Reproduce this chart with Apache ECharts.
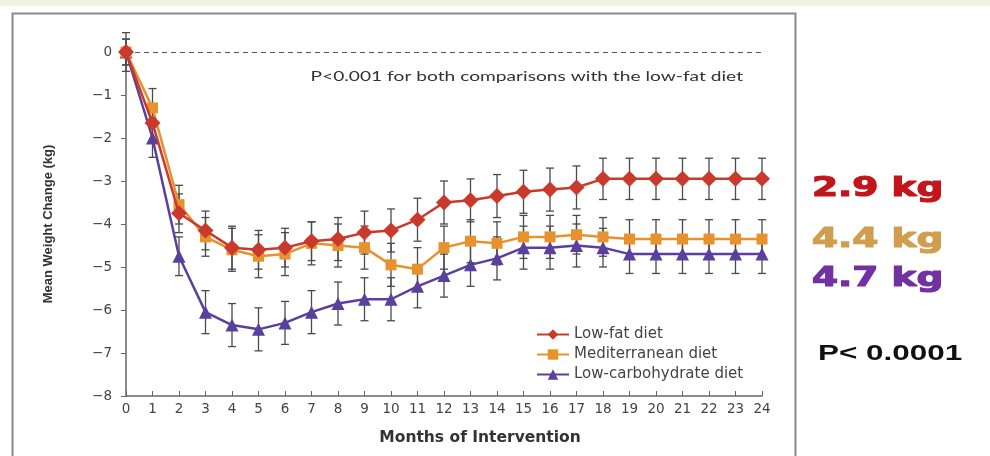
<!DOCTYPE html>
<html><head>
<meta charset="UTF-8">
<title>Mean Weight Change</title>
<style>
  body { margin: 0; background: #fff; }
  #chart { width: 990px; height: 456px; }
</style>
</head>
<body>
<div id="chart"></div>
<script src="https://cdn.jsdelivr.net/npm/echarts@6/dist/echarts.min.js"></script>
<script>
  // months 0..24
  const months = [0,1,2,3,4,5,6,7,8,9,10,11,12,13,14,15,16,17,18,19,20,21,22,23,24];

  // mean weight change (kg)
  const lowFat = [0,-1.65,-3.75,-4.15,-4.55,-4.6,-4.55,-4.4,-4.35,-4.2,-4.15,-3.9,-3.5,-3.45,-3.35,-3.25,-3.2,-3.15,-2.95,-2.95,-2.95,-2.95,-2.95,-2.95,-2.95];
  const mediterranean = [0,-1.3,-3.55,-4.3,-4.6,-4.75,-4.7,-4.45,-4.5,-4.55,-4.95,-5.05,-4.55,-4.4,-4.45,-4.3,-4.3,-4.25,-4.3,-4.35,-4.35,-4.35,-4.35,-4.35,-4.35];
  const lowCarb = [0,-2.0,-4.75,-6.05,-6.35,-6.45,-6.3,-6.05,-5.85,-5.75,-5.75,-5.45,-5.2,-4.95,-4.8,-4.55,-4.55,-4.5,-4.55,-4.7,-4.7,-4.7,-4.7,-4.7,-4.7];

  // half-width of error bars (kg)
  const lowFatErr = [0.45,0.45,0.45,0.45,0.5,0.45,0.45,0.45,0.5,0.5,0.5,0.5,0.5,0.5,0.5,0.5,0.5,0.5,0.48,0.48,0.48,0.48,0.48,0.48,0.48];
  const medErr = [0.3,0.45,0.45,0.45,0.5,0.5,0.5,0.5,0.5,0.5,0.5,0.5,0.5,0.5,0.5,0.5,0.5,0.45,0.45,0.45,0.45,0.45,0.45,0.45,0.45];
  const lowCarbErr = [0.3,0.45,0.45,0.5,0.5,0.5,0.5,0.5,0.5,0.5,0.5,0.5,0.5,0.5,0.5,0.5,0.5,0.5,0.45,0.45,0.45,0.45,0.45,0.45,0.45];

  const yTickLabels = {'0':'0','-1':'\u22121','-2':'\u22122','-3':'\u22123','-4':'\u22124','-5':'\u22125','-6':'\u22126','-7':'\u22127','-8':'\u22128'};

  const red = '#c93a2c';
  const orange = '#e8922e';
  const purple = '#5a3f9c';
  const wide = '"DejaVu Sans", sans-serif';
  const font = 'Lato, "Open Sans", sans-serif';

  function errData(vals, errs) {
    return months.map((m, i) => [m, vals[i] - errs[i], vals[i] + errs[i]]);
  }

  function renderErr(params, api) {
    const lo = api.coord([api.value(0), api.value(1)]);
    const hi = api.coord([api.value(0), api.value(2)]);
    const w = 4;
    const st = { stroke: '#4a4a4a', lineWidth: 1.3 };
    return {
      type: 'group',
      children: [
        { type: 'line', shape: { x1: lo[0], y1: lo[1], x2: hi[0], y2: hi[1] }, style: st },
        { type: 'line', shape: { x1: lo[0] - w, y1: lo[1], x2: lo[0] + w, y2: lo[1] }, style: st },
        { type: 'line', shape: { x1: hi[0] - w, y1: hi[1], x2: hi[0] + w, y2: hi[1] }, style: st }
      ]
    };
  }

  function errSeries(vals, errs) {
    return {
      type: 'custom',
      renderItem: renderErr,
      data: errData(vals, errs),
      encode: { x: 0, y: [1, 2] },
      clip: false,
      silent: true,
      z: 1
    };
  }

  function lineSeries(name, vals, color, symbol, size, z) {
    return {
      name: name,
      type: 'line',
      data: months.map((m, i) => [m, vals[i]]),
      symbol: symbol,
      symbolSize: size,
      lineStyle: { color: color, width: 2.5 },
      itemStyle: { color: color },
      z: z
    };
  }

  // stretched text helper (the source picture is widened horizontally)
  function stretchText(x, y, text, fnt, color, align, sx, strokeW) {
    return {
      type: 'text', x: x, y: y, scaleX: sx, silent: true,
      style: { x: 0, y: 0, text: text, font: fnt, fill: color, align: align, verticalAlign: 'middle',
        stroke: strokeW ? color : null, lineWidth: strokeW || 0 }
    };
  }

  const chart = echarts.init(document.getElementById('chart'));
  const option = {
    animation: false,
    backgroundColor: '#fff',
    grid: { left: 126, right: 228, top: 52, bottom: 60 },
    xAxis: {
      type: 'value',
      min: 0, max: 24, interval: 1,
      name: 'Months of Intervention',
      nameLocation: 'middle',
      nameGap: 34,
      nameTextStyle: { fontFamily: wide, fontWeight: 'bold', fontSize: 15.5, color: '#333', padding: [0, 0, 0, 72] },
      axisLine: { show: true, onZero: false, lineStyle: { color: '#666', width: 1.5 } },
      axisTick: { show: true, inside: true, length: 5, lineStyle: { color: '#666' } },
      axisLabel: { fontFamily: wide, fontSize: 13.5, color: '#444', margin: 6 },
      splitLine: { show: false }
    },
    yAxis: {
      type: 'value',
      min: -8, max: 0, interval: 1,
      name: 'Mean Weight Change (kg)',
      nameLocation: 'middle',
      nameGap: 71,
      nameRotate: 90,
      nameTextStyle: { fontFamily: '"Liberation Sans Narrow", "Liberation Sans", sans-serif', fontWeight: 'bold', fontSize: 13, color: '#333' },
      axisLine: { show: true, onZero: false, lineStyle: { color: '#666', width: 1.5 } },
      axisTick: { show: true, length: 5, lineStyle: { color: '#666' } },
      axisLabel: { fontFamily: wide, fontSize: 13.5, color: '#444', margin: 14,
        formatter: v => yTickLabels[String(v)] },
      splitLine: { show: false }
    },
    legend: {
      orient: 'vertical',
      left: 531, top: 322,
      itemWidth: 32, itemHeight: 13, itemGap: 5,
      textStyle: { fontFamily: wide, fontSize: 15, color: '#444' },
      data: ['Low-fat diet', 'Mediterranean diet', 'Low-carbohydrate diet']
    },
    graphic: [
      { type: 'rect', left: 0, top: 0, shape: { width: 990, height: 6 }, style: { fill: '#eef3df' }, silent: true },
      { type: 'rect', left: 10, top: 11, shape: { width: 783, height: 460 }, style: { fill: 'none', stroke: '#8a8a8a', lineWidth: 2 }, silent: true },
      stretchText(743, 77, 'P<0.001 for both comparisons with the low-fat diet', '13.5px ' + font, '#333', 'right', 1.42),
      stretchText(812, 189, '2.9 kg', 'bold 27px "DejaVu Sans", sans-serif', '#c3161c', 'left', 1.39, 1.2),
      stretchText(812, 240, '4.4 kg', 'bold 27px "DejaVu Sans", sans-serif', '#d19d4f', 'left', 1.39, 1.2),
      stretchText(812, 279, '4.7 kg', 'bold 27px "DejaVu Sans", sans-serif', '#7231a3', 'left', 1.39, 1.2),
      stretchText(818, 354, 'P< 0.0001', 'bold 22px "Liberation Sans", Arial, sans-serif', '#111', 'left', 1.43)
    ],
    series: [
      errSeries(lowFat, lowFatErr),
      errSeries(mediterranean, medErr),
      errSeries(lowCarb, lowCarbErr),
      Object.assign(lineSeries('Low-carbohydrate diet', lowCarb, purple, 'triangle', 13, 3), {
        markLine: {
          silent: true, symbol: 'none', label: { show: false },
          lineStyle: { color: '#555', type: [5, 4], width: 1 },
          data: [{ yAxis: 0 }]
        }
      }),
      lineSeries('Mediterranean diet', mediterranean, orange, 'rect', 11, 4),
      lineSeries('Low-fat diet', lowFat, red, 'diamond', 16, 5)
    ]
  };
  chart.setOption(option);
</script>
</body>
</html>
